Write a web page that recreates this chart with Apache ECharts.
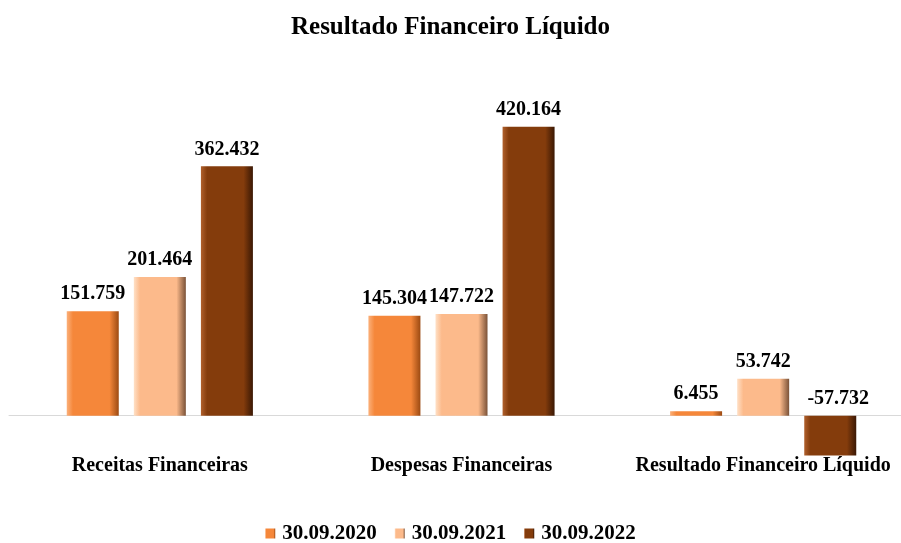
<!DOCTYPE html>
<html lang="pt">
<head>
    <meta charset="UTF-8"/>
    <script src="https://cdn.jsdelivr.net/npm/echarts@6/dist/echarts.min.js"></script>
    <title>Resultado Financeiro Líquido</title>
    <style>
        html, body { margin: 0; padding: 0; background: #fff; }
        #chart { width: 901px; height: 543px; }
    </style>
</head>
<body>
<div id="chart"></div>
<script type="text/javascript">
    var categories = ['Receitas Financeiras', 'Despesas Financeiras', 'Resultado Financeiro Líquido'];
    var seriesNames = ['30.09.2020', '30.09.2021', '30.09.2022'];
    var values2020 = [151.759, 145.304, 6.455];
    var values2021 = [201.464, 147.722, 53.742];
    var values2022 = [362.432, 420.164, -57.732];

    var serif = '"Liberation Serif", "Times New Roman", serif';

    // cores: base, claro, escuro (efeito de chanfro)
    var palette = [
        ['#F5873A', '#FBB07A', '#9C4A12'],
        ['#FCBA8B', '#FFE0C6', '#7A5238'],
        ['#843C0C', '#B0602C', '#3A1804']
    ];

    function bevel(c) {
        return {
            type: 'linear', x: 0, y: 0, x2: 1, y2: 0,
            colorStops: [
                { offset: 0, color: c[1] },
                { offset: 0.12, color: c[0] },
                { offset: 0.82, color: c[0] },
                { offset: 1, color: c[2] }
            ]
        };
    }

    function fmt(v) {
        return v.toFixed(3);
    }

    function makeSeries(name, data, idx) {
        return {
            name: name,
            type: 'bar',
            xAxisIndex: 0,
            barWidth: 52,
            barGap: '29%',
            clip: false,
            data: data,
            itemStyle: { color: bevel(palette[idx]) },
            label: {
                show: true,
                position: 'top',
                distance: 7,
                formatter: function (p) { return fmt(p.value); },
                fontFamily: serif,
                fontWeight: 'bold',
                fontSize: 20,
                color: '#000'
            }
        };
    }

    var s3 = makeSeries(seriesNames[2], values2022, 2);
    s3.data = values2022.map(function (v) {
        if (v < 0) {
            return { value: v, label: { position: 'insideTop', offset: [8, -34] } };
        }
        return v;
    });

    var chart = echarts.init(document.getElementById('chart'));
    var option = {
        backgroundColor: '#fff',
        animation: false,
        title: {
            text: 'Resultado Financeiro Líquido',
            left: 'center',
            top: 10,
            textStyle: { fontFamily: serif, fontWeight: 'bold', fontSize: 25, color: '#000' }
        },
        legend: {
            top: 518,
            left: 'center',
            itemWidth: 10,
            itemHeight: 10,
            itemGap: 18,
            icon: 'rect',
            textStyle: { fontFamily: serif, fontWeight: 'bold', fontSize: 21, color: '#000', padding: [0, 0, 0, 2] },
            data: seriesNames
        },
        grid: { left: 9, right: -13, top: 113, bottom: 86, containLabel: false, outerBoundsMode: 'none' },
        xAxis: [
            {
                type: 'category',
                data: categories,
                axisLine: { onZero: true, lineStyle: { color: '#D9D9D9', width: 1 } },
                axisTick: { show: false },
                axisLabel: { show: false }
            },
            {
                type: 'category',
                data: categories,
                position: 'bottom',
                axisLine: { show: false, onZero: false },
                axisTick: { show: false },
                axisLabel: {
                    interval: 0,
                    margin: -1,
                    fontFamily: serif,
                    fontWeight: 'bold',
                    fontSize: 20,
                    color: '#000'
                }
            }
        ],
        yAxis: {
            type: 'value',
            min: -60,
            max: 440,
            show: false,
            splitLine: { show: false }
        },
        series: [
            makeSeries(seriesNames[0], values2020, 0),
            makeSeries(seriesNames[1], values2021, 1),
            s3
        ]
    };
    chart.setOption(option);
</script>
</body>
</html>
